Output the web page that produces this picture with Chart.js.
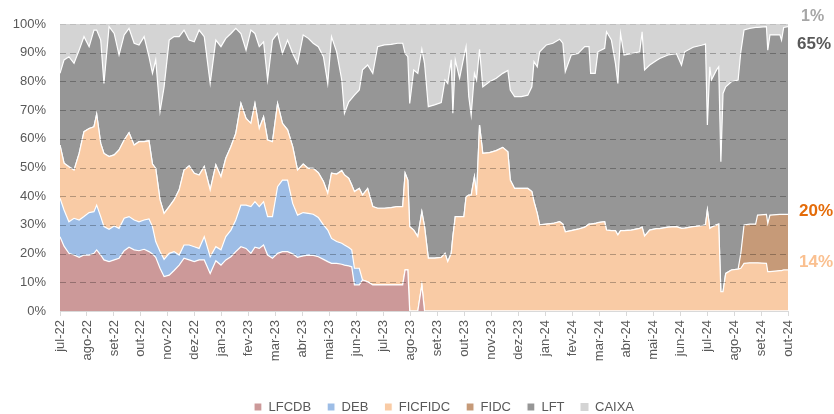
<!DOCTYPE html>
<html>
<head>
<meta charset="utf-8">
<script src="https://cdn.jsdelivr.net/npm/chart.js@4.4.1/dist/chart.umd.min.js"></script>
<style>
html,body{margin:0;padding:0;background:#ffffff;}
#wrap{width:834px;height:414px;position:relative;}
</style>
</head>
<body>
<div id="wrap"><canvas id="c" width="834" height="414"></canvas></div>
<script>
// Month tick labels (one per month, jul-22 .. out-24)
const months = ['jul-22','ago-22','set-22','out-22','nov-22','dez-22','jan-23','fev-23','mar-23','abr-23','mai-23','jun-23','jul-23','ago-23','set-23','out-23','nov-23','dez-23','jan-24','fev-24','mar-24','abr-24','mai-24','jun-24','jul-24','ago-24','set-24','out-24'];

// Sample positions, in months since jul-22
const t = [
0,0.15,0.33,0.52,0.71,0.89,1.08,1.26,1.36,1.51,
1.63,1.82,2.01,2.19,2.38,2.56,2.75,2.93,3.12,3.30,
3.43,3.55,3.71,3.86,4.05,4.23,4.42,4.60,4.79,4.98,
5.16,5.35,5.57,5.78,5.97,6.15,6.34,6.52,6.71,6.90,
7.08,7.23,7.39,7.55,7.70,7.88,8.07,8.25,8.44,8.63,
8.81,9.02,9.21,9.39,9.58,9.77,9.93,10.07,10.26,10.45,
10.55,10.71,10.82,10.92,11.10,11.22,11.41,11.60,11.78,12.03,
12.28,12.52,12.71,12.80,12.90,12.97,13.12,13.27,13.42,13.52,
13.66,13.89,14.14,14.28,14.38,14.51,14.57,14.66,14.82,14.98,
15.06,15.16,15.25,15.37,15.45,15.56,15.68,15.93,16.18,16.42,
16.61,16.70,16.86,17.11,17.35,17.50,17.58,17.70,17.79,18.04,
18.28,18.53,18.65,18.74,18.96,19.21,19.46,19.62,19.68,19.85,
19.95,20.20,20.27,20.45,20.60,20.69,20.79,20.92,21.19,21.50,
21.59,21.68,21.87,22.12,22.24,22.55,22.86,23.05,23.17,23.48,
23.79,23.94,24.01,24.10,24.16,24.35,24.43,24.51,24.59,24.69,
24.90,25.15,25.25,25.37,25.58,25.80,25.87,26.20,26.25,26.33,
26.70,26.76,26.84,27
];

// Shares (%) of each asset class
const lfcdb = [
25.9,22.6,20.1,19.5,18.7,19.5,19.5,20.1,21.3,19.5,
17.8,17.2,17.8,18.4,21.0,22.2,21.3,21.0,21.5,20.7,
19.9,18.7,14.9,12.0,12.5,14.1,16.0,18.4,17.8,17.2,
17.8,17.8,13.1,17.5,16.0,17.8,18.9,20.7,22.4,21.8,
20.1,22.2,21.8,23.0,19.5,18.4,20.1,20.7,20.7,19.9,
18.7,19.2,19.5,19.4,18.9,18.0,17.2,16.6,16.6,16.3,
16.0,15.7,15.4,9.1,9.1,10.8,10.2,9.1,9.1,9.1,
9.1,9.1,9.1,14.3,14.3,0,0,0,9.1,0,
0,0,0,0,0,0,0,0,0,0,
0,0,0,0,0,0,0,0,0,0,
0,0,0,0,0,0,0,0,0,0,
0,0,0,0,0,0,0,0,0,0,
0,0,0,0,0,0,0,0,0,0,
0,0,0,0,0,0,0,0,0,0,
0,0,0,0,0,0,0,0,0,0,
0,0,0,0,0,0,0,0,0,0,
0,0,0,0
];

const deb = [
13.4,12.6,11.0,12.8,13.0,13.4,14.8,14.5,15.6,13.4,
11.6,11.3,11.8,10.4,11.3,10.7,10.4,10.1,10.2,11.4,
9.5,5.5,5.8,6.0,7.6,6.6,3.5,4.6,5.2,5.2,
4.0,8.1,5.8,4.9,5.3,8.1,9.3,11.0,14.5,15.1,
16.3,15.9,14.6,15.1,13.4,14.5,23.2,24.9,24.9,17.6,
14.7,15.1,14.5,14.3,13.7,12.0,11.0,8.7,7.6,7.3,
7.0,6.4,5.9,5.8,5.8,0,0,0,0,0,
0,0,0,0,0,0,0,0,0,0,
0,0,0,0,0,0,0,0,0,0,
0,0,0,0,0,0,0,0,0,0,
0,0,0,0,0,0,0,0,0,0,
0,0,0,0,0,0,0,0,0,0,
0,0,0,0,0,0,0,0,0,0,
0,0,0,0,0,0,0,0,0,0,
0,0,0,0,0,0,0,0,0,0,
0,0,0,0,0,0,0,0,0,0,
0,0,0,0
];

const ficfidc = [
18.5,16.3,19.2,16.8,23.2,29.6,29.3,29.6,31.7,25.5,
25.5,25.3,24.8,27.3,27.3,29.2,26.1,27.9,27.3,27.2,
21.8,25.5,18.0,16.0,16.3,18.0,22.7,26.1,27.6,25.6,
25.6,24.4,23.3,28.5,25.5,27.3,29.1,30.2,35.4,30.2,
29.0,34.2,27.2,29.6,26.7,26.1,29.0,19.8,17.5,19.8,
15.7,16.9,15.7,16.0,15.6,15.1,12.8,22.7,23.5,25.3,
24.4,24.1,22.6,26.7,27.8,29.6,32.5,27.3,26.7,26.7,
26.9,27.3,27.3,33.7,31.3,29.4,28.2,25.9,25.5,29.4,
18.4,18.4,18.7,20.1,17.2,20.1,25.9,32.9,32.9,32.9,
39.8,40.4,40.4,46.8,40.4,64.8,54.9,55.2,55.9,57.0,
55.5,45.6,42.7,42.7,42.7,41.6,38.1,34.0,30.0,30.3,
30.5,31.1,30.3,27.6,28.0,28.5,29.2,30.3,30.3,30.5,
30.8,31.1,28.2,28.0,28.0,26.5,28.0,28.0,28.2,28.8,
29.2,26.1,28.2,28.7,28.7,29.2,29.4,28.8,28.9,29.4,
29.7,30.0,35.2,28.8,29.2,30.0,30.3,6.7,6.7,13.1,
14.3,14.6,14.9,16.6,16.8,16.8,16.8,16.6,13.7,13.7,
14.1,14.1,14.3,14.3
];

const fidc = [
0,0,0,0,0,0,0,0,0,0,
0,0,0,0,0,0,0,0,0,0,
0,0,0,0,0,0,0,0,0,0,
0,0,0,0,0,0,0,0,0,0,
0,0,0,0,0,0,0,0,0,0,
0,0,0,0,0,0,0,0,0,0,
0,0,0,0,0,0,0,0,0,0,
0,0,0,0,0,0,0,0,0,0,
0,0,0,0,0,0,0,0,0,0,
0,0,0,0,0,0,0,0,0,0,
0,0,0,0,0,0,0,0,0,0,
0,0,0,0,0,0,0,0,0,0,
0,0,0,0,0,0,0,0,0,0,
0,0,0,0,0,0,0,0,0,0,
0,0,0,0,0,0,0,0,0,0,
0,0,5.2,13.4,13.5,13.5,16.6,17.1,16.8,19.7,
19.6,19.6,19.4,19.4
];

const lft = [
25.0,36.0,38.3,37.2,36.0,33.1,28.5,33.7,29.3,36.0,
24.4,45.3,42.3,33.1,36.6,36.4,35.5,33.7,36.6,29.3,
31.6,37.8,30.8,44.1,58.0,56.9,53.4,48.8,43.8,45.8,
50.5,45.3,37.1,43.5,45.3,41.8,39.4,36.6,24.4,23.8,
32.5,24.4,28.5,26.1,20.9,35.4,24.4,24.3,31.3,32.4,
37.2,45.0,45.3,43.6,43.9,43.5,38.3,47.6,42.6,31.6,
21.5,26.7,30.2,33.6,34.3,43.6,43.0,46.4,56.3,56.9,
56.9,56.9,56.9,41.7,43.0,42.9,55.8,56.9,56.6,56.9,
52.8,53.4,53.9,60.4,62.1,67.4,43.0,54.6,48.2,55.7,
52.3,34.3,27.9,36.0,40.1,26.4,23.2,24.7,25.2,25.8,
28.3,31.4,32.0,32.0,32.5,36.5,48.8,51.1,60.3,62.4,
62.8,63.6,63.0,55.8,61.2,61.2,62.9,61.8,52.5,52.3,
59.5,60.4,69.1,66.4,58.3,52.8,68.7,61.2,61.5,61.5,
68.1,57.9,57.5,58.6,59.3,60.0,60.3,56.9,61.4,62.5,
62.9,63.0,29.6,56.3,51.3,54.0,54.8,45.3,69.1,65.0,
65.6,65.9,70.2,67.9,68.2,68.5,65.4,65.4,60.4,62.8,
62.5,60.7,65.1,65.4
];

const caixa = [
17.2,12.5,11.4,13.7,9.1,4.4,7.9,2.1,2.1,5.6,
20.7,0.9,3.3,10.8,3.8,1.5,6.7,7.3,4.4,11.4,
17.2,12.5,30.5,21.9,5.6,4.4,4.4,2.1,5.6,6.2,
2.1,4.4,20.7,5.6,7.9,5.0,3.3,1.5,3.3,9.1,
2.1,3.3,7.9,6.2,19.5,5.6,3.3,10.3,5.6,10.3,
13.7,3.8,5.0,6.7,7.9,11.4,20.7,4.4,9.7,19.5,
31.1,27.1,25.9,24.8,23.0,16.0,14.3,17.2,7.9,7.3,
7.1,6.7,6.7,10.3,11.4,27.7,16.0,17.2,8.8,13.7,
28.8,28.2,27.4,19.5,20.7,12.5,31.1,12.5,18.9,11.4,
7.9,25.3,31.7,17.2,19.5,8.8,21.9,20.1,18.9,17.2,
16.2,23.0,25.3,25.3,24.8,21.9,13.1,14.9,9.7,7.3,
6.7,5.3,6.7,16.6,10.8,10.3,7.9,7.9,17.2,17.2,
9.7,8.5,2.7,5.6,13.7,20.7,3.3,10.8,10.3,9.7,
2.7,16.0,14.3,12.7,12.0,10.8,10.3,14.3,9.7,8.1,
7.4,7.0,35.2,14.9,19.5,16.0,14.9,48.0,24.2,21.9,
20.1,19.5,9.7,2.1,1.5,1.2,1.2,0.9,9.1,3.8,
3.8,5.6,1.2,0.9
];

// Latest-value annotations on the right (CAIXA, LFT, FIDC, FICFIDC)
const endLabels = ['1%','65%','20%','14%'];

const FONT = "'Liberation Sans', Arial, sans-serif";
Chart.defaults.font.family = FONT;

const pts = arr => t.map((x, i) => ({x: x, y: arr[i]}));
const mk = (label, arr, color, fill, bw) => ({
  label: label, data: pts(arr), backgroundColor: color, borderColor: '#ffffff',
  borderWidth: bw, fill: fill, pointRadius: 0, pointHoverRadius: 0, tension: 0
});

const gridOnTop = {
  id: 'gridOnTop',
  afterDatasetsDraw(chart) {
    const {ctx, chartArea: a, scales: {y}} = chart;
    ctx.save();
    ctx.lineWidth = 1;
    ctx.setLineDash([6, 4]);
    for (let v = 10; v <= 100; v += 10) {
      const py = Math.round(y.getPixelForValue(v)) + 0.5;
      ctx.strokeStyle = v === 100 ? 'rgba(0,0,0,0.10)' : 'rgba(0,0,0,0.27)';
      ctx.beginPath(); ctx.moveTo(a.left, py); ctx.lineTo(a.right, py); ctx.stroke();
    }
    ctx.restore();
  }
};

const endText = {
  id: 'endText',
  afterDraw(chart) {
    const {ctx} = chart;
    const spots = [
      {x: 801, y: 17, c: '#a6a6a6', f: 'bold 16px ' + FONT},
      {x: 797, y: 44, c: '#595959', f: 'bold 17px ' + FONT},
      {x: 799, y: 211, c: '#e46c0a', f: 'bold 17px ' + FONT},
      {x: 799, y: 262, c: '#fac090', f: 'bold 17px ' + FONT}
    ];
    ctx.save();
    ctx.textAlign = 'left';
    ctx.textBaseline = 'middle';
    endLabels.forEach((s, i) => {
      ctx.font = spots[i].f; ctx.fillStyle = spots[i].c;
      ctx.fillText(s, spots[i].x, spots[i].y);
    });
    ctx.restore();
  }
};

const legendShift = {
  id: 'legendShift',
  afterLayout(chart) {
    const lg = chart.legend;
    if (!lg) return;
    const dx = 50;
    lg.left += dx; lg.right += dx;
    const h = lg.bottom - lg.top;
    lg.top = 407 - 6.5 - 16; lg.bottom = lg.top + h;
  }
};

new Chart(document.getElementById('c'), {
  type: 'line',
  data: {
    datasets: [
      mk('LFCDB', lfcdb, '#cc9999', 'origin', 1.2),
      mk('DEB', deb, '#9dbde6', '-1', 1.2),
      mk('FICFIDC', ficfidc, '#f9cba5', '-1', 1.2),
      mk('FIDC', fidc, '#c69a78', '-1', 1.2),
      mk('LFT', lft, '#969696', '-1', 1.2),
      mk('CAIXA', caixa, '#d4d4d4', '-1', 0)
    ]
  },
  options: {
    responsive: false,
    animation: false,
    devicePixelRatio: 1,
    layout: {padding: {top: 24, right: 46, left: 0, bottom: 0}},
    interaction: {mode: 'nearest', intersect: false},
    plugins: {
      legend: {
        position: 'bottom',
        labels: {
          boxWidth: 8, boxHeight: 8, padding: 16, color: '#595959',
          font: {size: 13, family: FONT}
        }
      },
      tooltip: {enabled: false}
    },
    scales: {
      x: {
        type: 'linear', min: 0, max: 27,
        ticks: {
          stepSize: 1, autoSkip: false, maxRotation: 90, minRotation: 90,
          color: '#595959', font: {size: 13}, padding: 4,
          callback: v => Number.isInteger(v) ? months[v] : ''
        },
        grid: {drawOnChartArea: false, tickLength: 5, color: '#d9d9d9'},
        border: {color: '#d9d9d9'},
        afterFit: s => { s.height = 64; }
      },
      y: {
        stacked: true, min: 0, max: 100,
        ticks: {stepSize: 10, callback: v => v + '%', color: '#595959', font: {size: 13}, padding: 14},
        grid: {display: false, drawTicks: false},
        border: {display: false},
        afterFit: s => { s.width = 60; }
      }
    }
  },
  plugins: [gridOnTop, endText, legendShift]
});
</script>
</body>
</html>
